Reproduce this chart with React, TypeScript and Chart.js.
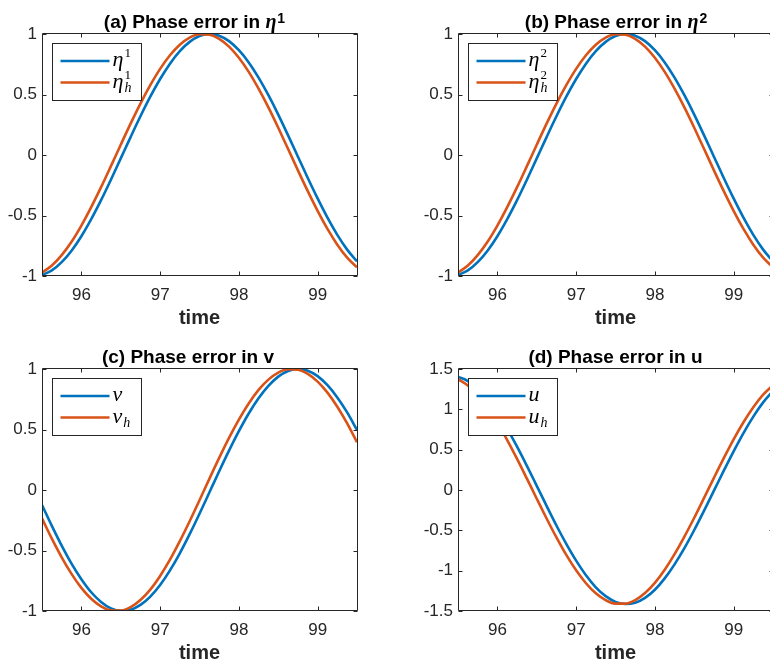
import React, { useEffect, useRef } from 'react';
import { Chart, registerables } from 'chart.js';

Chart.register(...registerables);

// ---------- data ----------
const time = [95.5, 95.625, 95.75, 95.875, 96, 96.125, 96.25, 96.375, 96.5, 96.625, 96.75, 96.875, 97, 97.125, 97.25, 97.375, 97.5, 97.625, 97.75, 97.875, 98, 98.125, 98.25, 98.375, 98.5, 98.625, 98.75, 98.875, 99, 99.125, 99.25, 99.375, 99.5];

const eta1 = [-0.992, -0.954, -0.886, -0.791, -0.671, -0.530, -0.373, -0.204, -0.028, 0.148, 0.320, 0.482, 0.628, 0.755, 0.859, 0.935, 0.983, 1.000, 0.986, 0.941, 0.866, 0.765, 0.639, 0.494, 0.334, 0.162, -0.014, -0.190, -0.359, -0.518, -0.660, -0.782, -0.879];
const eta1h = [-0.971, -0.914, -0.828, -0.717, -0.583, -0.431, -0.266, -0.092, 0.085, 0.259, 0.425, 0.577, 0.712, 0.824, 0.911, 0.970, 0.998, 0.994, 0.960, 0.896, 0.804, 0.687, 0.548, 0.393, 0.225, 0.050, -0.127, -0.299, -0.462, -0.611, -0.741, -0.848, -0.928];

const eta2 = [-0.992, -0.954, -0.886, -0.791, -0.671, -0.530, -0.373, -0.204, -0.028, 0.148, 0.320, 0.482, 0.628, 0.755, 0.859, 0.935, 0.983, 1.000, 0.986, 0.941, 0.866, 0.765, 0.639, 0.494, 0.334, 0.162, -0.014, -0.190, -0.359, -0.518, -0.660, -0.782, -0.879];
const eta2h = [-0.971, -0.914, -0.828, -0.717, -0.583, -0.431, -0.266, -0.092, 0.085, 0.259, 0.425, 0.577, 0.712, 0.824, 0.911, 0.970, 0.998, 0.994, 0.960, 0.896, 0.804, 0.687, 0.548, 0.393, 0.225, 0.050, -0.127, -0.299, -0.462, -0.611, -0.741, -0.848, -0.928];

const vExact = [-0.124, -0.296, -0.459, -0.608, -0.737, -0.845, -0.925, -0.978, -0.999, -0.990, -0.950, -0.881, -0.785, -0.664, -0.523, -0.365, -0.196, -0.021, 0.155, 0.325, 0.486, 0.632, 0.758, 0.860, 0.937, 0.984, 1.000, 0.986, 0.941, 0.866, 0.765, 0.641, 0.496];
const vh = [-0.235, -0.402, -0.556, -0.693, -0.809, -0.899, -0.962, -0.995, -0.997, -0.968, -0.909, -0.823, -0.710, -0.576, -0.423, -0.258, -0.085, 0.092, 0.265, 0.430, 0.581, 0.715, 0.827, 0.912, 0.970, 0.998, 0.994, 0.960, 0.896, 0.805, 0.688, 0.550, 0.395];

const uExact = [1.403, 1.351, 1.256, 1.123, 0.955, 0.757, 0.537, 0.299, 0.052, -0.197, -0.440, -0.668, -0.876, -1.057, -1.206, -1.316, -1.387, -1.414, -1.397, -1.337, -1.236, -1.096, -0.922, -0.721, -0.496, -0.256, -0.008, 0.240, 0.480, 0.706, 0.910, 1.086, 1.228];
const uh = [1.374, 1.295, 1.175, 1.019, 0.832, 0.619, 0.386, 0.141, -0.108, -0.353, -0.588, -0.805, -0.996, -1.156, -1.281, -1.366, -1.409, -1.408, -1.364, -1.277, -1.151, -0.989, -0.796, -0.578, -0.344, -0.098, 0.151, 0.395, 0.628, 0.840, 1.026, 1.181, 1.299];

const xTicks = [96, 97, 98, 99];
const yTicksUnit = [-1, -0.5, 0, 0.5, 1];
const yTicksU = [-1.5, -1, -0.5, 0, 0.5, 1, 1.5];
const xLabel = 'time';

// title parts: [prefix, symbol, superscript]
const titleA = ['(a) Phase error in ', 'η', '1'];
const titleB = ['(b) Phase error in ', 'η', '2'];
const titleC = ['(c) Phase error in v', '', ''];
const titleD = ['(d) Phase error in u', '', ''];

// legend entries: [base, superscript, subscript]
const legendA = [['η', '1', ''], ['η', '1', 'h']];
const legendB = [['η', '2', ''], ['η', '2', 'h']];
const legendC = [['v', '', ''], ['v', '', 'h']];
const legendD = [['u', '', ''], ['u', '', 'h']];

const BLUE = '#0072BD';
const ORANGE = '#D95319';
const AXIS = '#262626';
const SANS = '"Liberation Sans", Arial, Helvetica, sans-serif';
const SERIF = '"Liberation Serif", "Times New Roman", serif';

// ---------- plugins ----------
const boxPlugin = {
  id: 'mlBox',
  afterDatasetsDraw(chart: any) {
    const { ctx, chartArea, scales } = chart;
    const L = Math.round(chartArea.left) + 0.5;
    const R = Math.round(chartArea.right) + 0.5;
    const T = Math.round(chartArea.top) - 0.5;
    const B = Math.round(chartArea.bottom) - 0.5;
    ctx.save();
    ctx.strokeStyle = AXIS;
    ctx.lineWidth = 1;
    ctx.beginPath();
    ctx.rect(L, T, R - L, B - T);
    ctx.stroke();
    const tl = 4;
    ctx.beginPath();
    scales.x.ticks.forEach((t: any) => {
      const px = Math.round(scales.x.getPixelForValue(t.value)) + 0.5;
      ctx.moveTo(px, B); ctx.lineTo(px, B - tl);
      ctx.moveTo(px, T); ctx.lineTo(px, T + tl);
    });
    scales.y.ticks.forEach((t: any) => {
      const py = Math.round(scales.y.getPixelForValue(t.value)) + 0.5;
      ctx.moveTo(L, py); ctx.lineTo(L + tl, py);
      ctx.moveTo(R, py); ctx.lineTo(R - tl, py);
    });
    ctx.stroke();
    ctx.restore();
  },
};

const titlePlugin = {
  id: 'mlTitle',
  afterDraw(chart: any, _args: any, opts: any) {
    const { ctx, chartArea } = chart;
    const [pre, sym, sup] = opts.parts as string[];
    const fMain = `bold 19px ${SANS}`;
    const fSym = `bold italic 20px ${SERIF}`;
    const fSup = `bold 14px ${SANS}`;
    ctx.save();
    ctx.fillStyle = '#000';
    ctx.textBaseline = 'alphabetic';
    ctx.textAlign = 'left';
    ctx.font = fMain; const w1 = ctx.measureText(pre).width;
    ctx.font = fSym; const w2 = sym ? ctx.measureText(sym).width + 1 : 0;
    ctx.font = fSup; const w3 = sup ? ctx.measureText(sup).width : 0;
    const total = w1 + w2 + w3;
    const cx = chartArea.left + opts.center;
    let x = cx - total / 2;
    const base = chartArea.top - 6;
    ctx.font = fMain; ctx.fillText(pre, x, base); x += w1;
    if (sym) { ctx.font = fSym; ctx.fillText(sym, x, base); x += w2; }
    if (sup) { ctx.font = fSup; ctx.fillText(sup, x, base - 5); }
    ctx.restore();
  },
};

const legendPlugin = {
  id: 'mlLegend',
  afterDraw(chart: any, _args: any, opts: any) {
    const { ctx, chartArea } = chart;
    const x0 = Math.round(chartArea.left) + 10.5;
    const y0 = Math.round(chartArea.top) + 9.5;
    const w = 89, h = 57;
    ctx.save();
    ctx.fillStyle = '#fff';
    ctx.fillRect(x0, y0, w, h);
    ctx.strokeStyle = AXIS;
    ctx.lineWidth = 1;
    ctx.strokeRect(x0, y0, w, h);
    const colors = [BLUE, ORANGE];
    (opts.items as string[][]).forEach((it, i) => {
      const y = y0 + 17.5 + i * 21.6;
      ctx.strokeStyle = colors[i];
      ctx.lineWidth = 2.5;
      ctx.beginPath();
      ctx.moveTo(x0 + 8, y);
      ctx.lineTo(x0 + 57, y);
      ctx.stroke();
      const [b, sp, sb] = it;
      let x = x0 + 60;
      const base = y + 5;
      ctx.fillStyle = '#000';
      ctx.textAlign = 'left';
      ctx.textBaseline = 'alphabetic';
      ctx.font = `italic 22px ${SERIF}`;
      ctx.fillText(b, x, base);
      x += ctx.measureText(b).width + 1;
      if (sp) { ctx.font = `13px ${SERIF}`; ctx.fillText(sp, x, base - 9); }
      if (sb) { ctx.font = `italic 14px ${SERIF}`; ctx.fillText(sb, x, base + 4); }
    });
    ctx.restore();
  },
};

type PanelCfg = {
  left: number; top: number;
  blue: number[]; orange: number[];
  yMin: number; yMax: number; yTicks: number[];
  title: string[]; legend: string[][]; titleCenter: number;
};

function Panel({ cfg }: { cfg: PanelCfg }) {
  const ref = useRef<HTMLCanvasElement>(null);
  useEffect(() => {
    if (!ref.current) return;
    const mk = (vals: number[]) => time.map((t, i) => ({ x: t, y: vals[i] }));
    const chart = new Chart(ref.current, {
      type: 'line',
      data: {
        datasets: [
          { data: mk(cfg.blue), borderColor: BLUE, borderWidth: 2.6, pointRadius: 0, fill: false, cubicInterpolationMode: 'monotone', order: 1, clip: 0 } as any,
          { data: mk(cfg.orange), borderColor: ORANGE, borderWidth: 2.6, pointRadius: 0, fill: false, cubicInterpolationMode: 'monotone', order: 0, clip: 0 } as any,
        ],
      },
      options: {
        animation: false,
        responsive: false,
        events: [],
        layout: { padding: { left: 0, top: 34, right: 28, bottom: 0 } },
        plugins: {
          legend: { display: false },
          tooltip: { enabled: false },
          mlTitle: { parts: cfg.title, center: cfg.titleCenter },
          mlLegend: { items: cfg.legend },
        } as any,
        scales: {
          x: {
            type: 'linear',
            min: 95.5,
            max: 99.5,
            afterBuildTicks: (s: any) => { s.ticks = xTicks.map((v) => ({ value: v })); },
            afterFit: (s: any) => { s.height = 54; },
            grid: { display: false, drawTicks: false },
            border: { display: false },
            ticks: { padding: 9, color: AXIS, font: { family: SANS, size: 17 }, maxRotation: 0, autoSkip: false, callback: (v: any) => String(v) },
            title: { display: true, text: xLabel, color: AXIS, font: { family: SANS, size: 20, weight: 'bold' }, padding: { top: 0, bottom: 0 } },
          },
          y: {
            type: 'linear',
            min: cfg.yMin,
            max: cfg.yMax,
            afterBuildTicks: (s: any) => { s.ticks = cfg.yTicks.map((v) => ({ value: v })); },
            afterFit: (s: any) => { s.width = 42; },
            grid: { display: false, drawTicks: false },
            border: { display: false },
            ticks: { padding: 5, color: AXIS, font: { family: SANS, size: 17 }, autoSkip: false, callback: (v: any) => String(v) },
          },
        } as any,
      },
      plugins: [boxPlugin, titlePlugin, legendPlugin],
    });
    return () => chart.destroy();
  }, [cfg]);
  return (
    <canvas
      ref={ref}
      width={385}
      height={330}
      style={{ position: 'absolute', left: cfg.left, top: cfg.top, width: 385, height: 330 }}
    />
  );
}

const panels: PanelCfg[] = [
  { left: 0, top: 0, blue: eta1, orange: eta1h, yMin: -1, yMax: 1, yTicks: yTicksUnit, title: titleA, legend: legendA, titleCenter: 152.5 },
  { left: 416, top: 0, blue: eta2, orange: eta2h, yMin: -1, yMax: 1, yTicks: yTicksUnit, title: titleB, legend: legendB, titleCenter: 158 },
  { left: 0, top: 335, blue: vExact, orange: vh, yMin: -1, yMax: 1, yTicks: yTicksUnit, title: titleC, legend: legendC, titleCenter: 146 },
  { left: 416, top: 335, blue: uExact, orange: uh, yMin: -1.5, yMax: 1.5, yTicks: yTicksU, title: titleD, legend: legendD, titleCenter: 157.5 },
];

export default function App() {
  return (
    <div style={{ position: 'absolute', left: 0, top: 0, width: 770, height: 665, overflow: 'hidden', background: '#fff' }}>
      {panels.map((p, i) => (
        <Panel key={i} cfg={p} />
      ))}
    </div>
  );
}
